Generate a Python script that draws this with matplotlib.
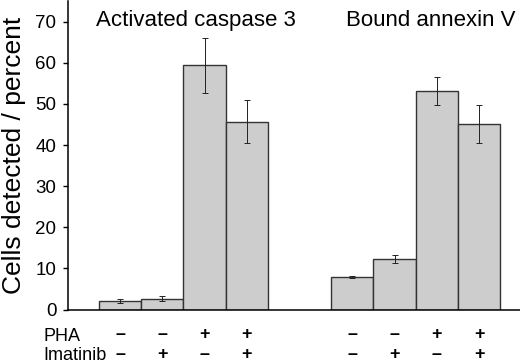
import matplotlib.pyplot as plt

plt.rcParams['font.family'] = ['Liberation Sans', 'DejaVu Sans']

# bar positions (two groups of four)
pos = [0, 1, 2, 3, 5.5, 6.5, 7.5, 8.5]
values = [2.1, 2.6, 59.4, 45.7, 7.9, 12.4, 53.2, 45.2]
err_low = [0.5, 0.5, 6.7, 5.2, 0.2, 1.0, 3.4, 4.6]
err_high = [0.6, 0.6, 6.6, 5.3, 0.2, 1.0, 3.3, 4.6]
pha = ['\u2013', '\u2013', '+', '+', '\u2013', '\u2013', '+', '+']
imatinib = ['\u2013', '+', '\u2013', '+', '\u2013', '+', '\u2013', '+']
titles = ['Activated caspase 3', 'Bound annexin V']
yticks = [0, 10, 20, 30, 40, 50, 60, 70]

fig = plt.figure(figsize=(5.2, 3.63), dpi=100)
ax = fig.add_axes([0.131, 0.147, 0.869, 0.85])

ax.bar(pos, values, width=1.0, color='#cdcdcd', edgecolor='#333333', linewidth=1.0)
ax.errorbar(pos, values, yerr=[err_low, err_high], fmt='none', ecolor='#222222',
            elinewidth=0.7, capsize=2, capthick=0.7)

ax.set_xlim(-1.23, 9.47)
ax.set_ylim(0, 75)
ax.set_yticks(yticks)
ax.set_xticks([])
ax.spines['top'].set_visible(False)
ax.spines['right'].set_visible(False)
ax.spines['left'].set_linewidth(1.1)
ax.spines['bottom'].set_linewidth(1.1)
ax.tick_params(axis='y', labelsize=13.5, length=3.5, width=1, pad=5)
ax.set_ylabel('Cells detected / percent', fontsize=19)
ax.yaxis.set_label_coords(-0.094, 0.5)

ax.text(1.8, 69.0, titles[0], fontsize=16, ha='center', va='baseline')
ax.text(7.35, 69.0, titles[1], fontsize=16, ha='center', va='baseline')

tr = ax.get_xaxis_transform()
for x, p, m in zip(pos, pha, imatinib):
    ax.text(x, -0.079, p, transform=tr, ha='center', va='center',
            fontsize=13, fontweight='bold', clip_on=False)
    ax.text(x, -0.145, m, transform=tr, ha='center', va='center',
            fontsize=13, fontweight='bold', clip_on=False)

fig.text(0.083, 1 - 341 / 363, 'PHA', fontsize=13, ha='left', va='baseline')
fig.text(0.083, 1 - 359.5 / 363, 'Imatinib', fontsize=13, ha='left', va='baseline')

fig.savefig('out.png', dpi=100)
